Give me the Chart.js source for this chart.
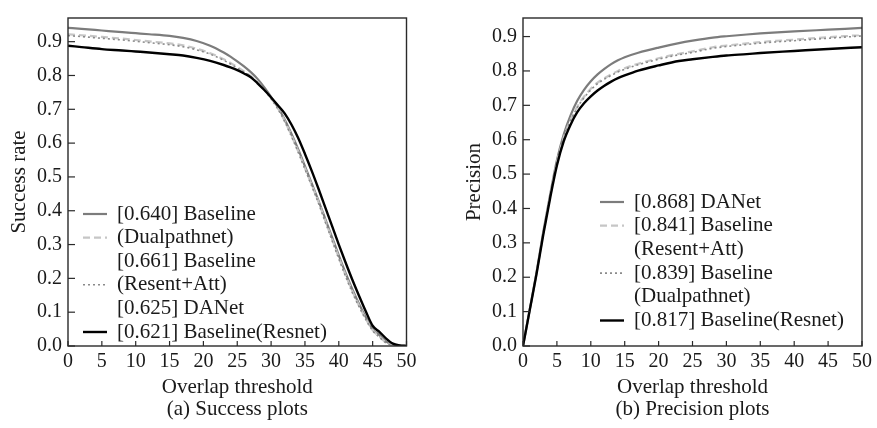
<!DOCTYPE html>
<html>
<head>
<meta charset="utf-8">
<script src="https://cdn.jsdelivr.net/npm/chart.js@4.4.1/dist/chart.umd.min.js"></script>
<style>
  html, body { margin: 0; padding: 0; background: #fff; }
  #wrap { position: relative; width: 877px; height: 428px; overflow: hidden; }
  #c1 { position: absolute; left: 0; top: 0; }
  #c2 { position: absolute; left: 430px; top: 0; }
</style>
</head>
<body>
<div id="wrap">
  <canvas id="c1" width="430" height="428"></canvas>
  <canvas id="c2" width="447" height="428"></canvas>
</div>
<script>
// ---------- DATA ----------
const xTickValues = [0, 5, 10, 15, 20, 25, 30, 35, 40, 45, 50];
const yTickValues = [0, 0.1, 0.2, 0.3, 0.4, 0.5, 0.6, 0.7, 0.8, 0.9];

// (a) Success plots
const successThresholds = [0, 2, 5, 8, 10, 12, 15, 17, 19, 21, 23, 24, 25, 26, 27, 28, 29, 30, 31, 32, 33, 34, 35, 36, 37, 38, 39, 40, 41, 42, 43, 44, 45, 46, 47, 48, 49, 50];
const successDualpathnet = [0.941, 0.938, 0.933, 0.928, 0.925, 0.922, 0.917, 0.911, 0.902, 0.888, 0.868, 0.856, 0.842, 0.827, 0.810, 0.790, 0.765, 0.737, 0.706, 0.670, 0.628, 0.582, 0.532, 0.481, 0.430, 0.376, 0.322, 0.268, 0.216, 0.168, 0.124, 0.085, 0.050, 0.032, 0.013, 0.004, 0.001, 0];
const successResnetAtt = [0.922, 0.919, 0.914, 0.909, 0.905, 0.901, 0.895, 0.889, 0.879, 0.866, 0.848, 0.837, 0.825, 0.812, 0.798, 0.780, 0.758, 0.733, 0.703, 0.666, 0.623, 0.576, 0.526, 0.476, 0.426, 0.371, 0.316, 0.262, 0.210, 0.162, 0.119, 0.080, 0.047, 0.028, 0.010, 0.003, 0.001, 0];
const successDANet = [0.918, 0.915, 0.910, 0.905, 0.901, 0.897, 0.891, 0.885, 0.876, 0.863, 0.845, 0.834, 0.822, 0.810, 0.796, 0.778, 0.756, 0.731, 0.701, 0.664, 0.620, 0.573, 0.523, 0.473, 0.422, 0.367, 0.312, 0.258, 0.206, 0.158, 0.116, 0.078, 0.045, 0.026, 0.009, 0.003, 0.001, 0];
const successResnet = [0.888, 0.884, 0.878, 0.874, 0.871, 0.868, 0.863, 0.859, 0.852, 0.843, 0.831, 0.824, 0.816, 0.806, 0.795, 0.777, 0.757, 0.735, 0.712, 0.688, 0.655, 0.615, 0.568, 0.518, 0.465, 0.410, 0.355, 0.300, 0.247, 0.196, 0.148, 0.102, 0.060, 0.042, 0.022, 0.007, 0.002, 0];
const successLabels = ['[0.640] Baseline (Dualpathnet)', '[0.661] Baseline (Resent+Att)', '[0.625] DANet', '[0.621] Baseline(Resnet)'];
const successLegendLines = ['[0.640] Baseline', '(Dualpathnet)', '[0.661] Baseline', '(Resent+Att)', '[0.625] DANet', '[0.621] Baseline(Resnet)'];

// (b) Precision plots
const precisionThresholds = [0, 1, 2, 3, 4, 5, 6, 7, 8, 9, 10, 11, 12, 13, 14, 15, 17, 20, 23, 25, 28, 30, 33, 35, 40, 45, 50];
const precisionDANet = [0, 0.107, 0.215, 0.333, 0.440, 0.540, 0.615, 0.670, 0.713, 0.745, 0.770, 0.790, 0.806, 0.820, 0.831, 0.840, 0.853, 0.868, 0.881, 0.888, 0.897, 0.901, 0.906, 0.909, 0.915, 0.920, 0.925];
const precisionResnetAtt = [0, 0.106, 0.212, 0.330, 0.436, 0.533, 0.606, 0.657, 0.696, 0.725, 0.748, 0.766, 0.779, 0.790, 0.800, 0.808, 0.821, 0.837, 0.850, 0.857, 0.869, 0.874, 0.880, 0.884, 0.891, 0.898, 0.905];
const precisionDualpathnet = [0, 0.106, 0.212, 0.330, 0.435, 0.531, 0.603, 0.654, 0.693, 0.722, 0.745, 0.763, 0.776, 0.787, 0.797, 0.805, 0.818, 0.834, 0.847, 0.854, 0.866, 0.871, 0.877, 0.881, 0.888, 0.895, 0.902];
const precisionResnet = [0, 0.105, 0.210, 0.325, 0.430, 0.525, 0.595, 0.643, 0.680, 0.706, 0.726, 0.743, 0.757, 0.769, 0.779, 0.787, 0.801, 0.816, 0.829, 0.834, 0.841, 0.845, 0.849, 0.852, 0.858, 0.864, 0.869];
const precisionLabels = ['[0.868] DANet', '[0.841] Baseline (Resent+Att)', '[0.839] Baseline (Dualpathnet)', '[0.817] Baseline(Resnet)'];
const precisionLegendLines = ['[0.868] DANet', '[0.841] Baseline', '(Resent+Att)', '[0.839] Baseline', '(Dualpathnet)', '[0.817] Baseline(Resnet)'];

// ---------- STYLE ----------
const FONT = "'Liberation Serif', 'Times New Roman', serif";
const TEXT = '#1a1a1a';
const styles = [
  { color: '#7c7c7c', width: 2.2, dash: [] },
  { color: '#c6c6c6', width: 2.2, dash: [7, 4] },
  { color: '#8a8a8a', width: 1.6, dash: [2, 3] },
  { color: '#000000', width: 2.4, dash: [] }
];
const legendMarkerRows = [0, 1, 3, 5];

function toPoints(xs, ys) { return xs.map((x, i) => ({ x: x, y: ys[i] })); }

function makeDatasets(xs, series, labels) {
  return series.map((ys, i) => ({
    label: labels[i],
    data: toPoints(xs, ys),
    borderColor: styles[i].color,
    borderWidth: styles[i].width,
    borderDash: styles[i].dash,
    pointRadius: 0,
    fill: false,
    cubicInterpolationMode: 'monotone',
    order: 3 - i
  }));
}

const framePlugin = {
  id: 'frameTicks',
  afterDatasetsDraw(chart, args, opts) {
    const { ctx, chartArea: a, scales } = chart;
    ctx.save();
    ctx.strokeStyle = '#2a2a2a';
    ctx.lineWidth = 1.4;
    ctx.setLineDash([]);
    ctx.strokeRect(a.left, a.top, a.right - a.left, a.bottom - a.top);
    ctx.lineWidth = 1.2;
    xTickValues.forEach(v => {
      const px = scales.x.getPixelForValue(v);
      ctx.beginPath(); ctx.moveTo(px, a.bottom); ctx.lineTo(px, a.bottom - 5); ctx.stroke();
    });
    yTickValues.forEach(v => {
      const py = scales.y.getPixelForValue(v);
      ctx.beginPath(); ctx.moveTo(a.left, py); ctx.lineTo(a.left + 7, py); ctx.stroke();
    });
    // custom legend
    const lg = opts;
    ctx.font = '21px ' + FONT;
    ctx.fillStyle = TEXT;
    ctx.textBaseline = 'middle';
    ctx.textAlign = 'left';
    const x0 = a.left + lg.dx, y0 = a.top + lg.dy;
    lg.lines.forEach((t, i) => ctx.fillText(t, x0 + 34, y0 + i * lg.spacing));
    legendMarkerRows.forEach((row, i) => {
      const s = styles[i];
      ctx.strokeStyle = s.color;
      ctx.lineWidth = s.width;
      ctx.setLineDash(s.dash);
      const y = y0 + row * lg.spacing;
      ctx.beginPath(); ctx.moveTo(x0, y); ctx.lineTo(x0 + 24, y); ctx.stroke();
    });
    ctx.restore();
  }
};

function makeChart(canvasId, xs, series, labels, legendLines, yMax, yTitle, subTitle, pad, legendPos) {
  return new Chart(document.getElementById(canvasId), {
    type: 'line',
    data: { datasets: makeDatasets(xs, series, labels) },
    options: {
      responsive: false,
      animation: false,
      layout: { padding: pad },
      plugins: {
        legend: { display: false },
        tooltip: { enabled: false },
        frameTicks: { dx: legendPos.dx, dy: legendPos.dy, spacing: legendPos.spacing, lines: legendLines }
      },
      scales: {
        x: {
          type: 'linear', min: 0, max: 50,
          afterBuildTicks: s => { s.ticks = xTickValues.map(v => ({ value: v })); },
          afterFit: s => { s.height = 82; },
          grid: { display: false, drawTicks: false },
          border: { display: false },
          ticks: { padding: 4, color: TEXT, font: { family: FONT, size: 20 }, maxRotation: 0, autoSkip: false,
                   callback: v => String(v) },
          title: { display: true, text: ['Overlap threshold', subTitle], color: TEXT,
                   font: { family: FONT, size: 21, lineHeight: 1.05 }, padding: { top: 0, bottom: 7 } }
        },
        y: {
          type: 'linear', min: 0, max: yMax,
          afterBuildTicks: s => { s.ticks = yTickValues.map(v => ({ value: v })); },
          afterFit: s => { s.width = 68; },
          grid: { display: false, drawTicks: false },
          border: { display: false },
          ticks: { padding: 6, color: TEXT, font: { family: FONT, size: 20 }, autoSkip: false,
                   callback: v => Number(v).toFixed(1) },
          title: { display: true, text: yTitle, color: TEXT,
                   font: { family: FONT, size: 21, lineHeight: 1.2 }, padding: { top: 7, bottom: 0 } }
        }
      }
    },
    plugins: [framePlugin]
  });
}

makeChart('c1', successThresholds,
  [successDualpathnet, successResnetAtt, successDANet, successResnet],
  successLabels, successLegendLines, 0.97, 'Success rate', '(a) Success plots',
  { top: 9, right: 23.5, bottom: 0, left: 0 },
  { dx: 15, dy: 196, spacing: 23.6 });

makeChart('c2', precisionThresholds,
  [precisionDANet, precisionResnetAtt, precisionDualpathnet, precisionResnet],
  precisionLabels, precisionLegendLines, 0.954, 'Precision', '(b) Precision plots',
  { top: 9, right: 15, bottom: 0, left: 25 },
  { dx: 77, dy: 184, spacing: 23.7 });
</script>
</body>
</html>
